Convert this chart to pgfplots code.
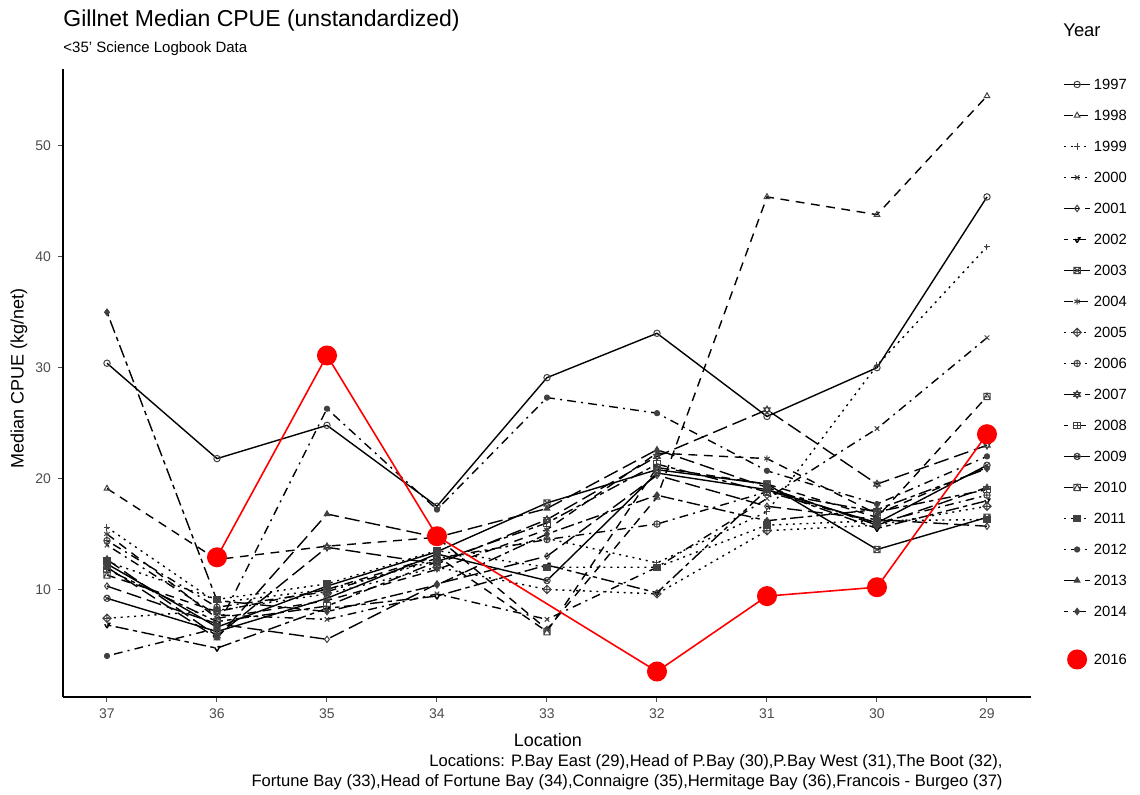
\documentclass[border=0pt]{standalone}
\usepackage{pgfplots}
\usepackage{pgfplotstable}
\pgfplotsset{compat=1.18}
\usepackage{fontspec}
\setmainfont{Liberation Sans}

\pgfdeclareplotmark{squarex}{%
  \pgfpathrectangle{\pgfqpoint{-\pgfplotmarksize}{-\pgfplotmarksize}}{\pgfqpoint{2\pgfplotmarksize}{2\pgfplotmarksize}}%
  \pgfpathmoveto{\pgfqpoint{-\pgfplotmarksize}{-\pgfplotmarksize}}\pgfpathlineto{\pgfqpoint{\pgfplotmarksize}{\pgfplotmarksize}}%
  \pgfpathmoveto{\pgfqpoint{-\pgfplotmarksize}{\pgfplotmarksize}}\pgfpathlineto{\pgfqpoint{\pgfplotmarksize}{-\pgfplotmarksize}}%
  \pgfusepathqstroke}
\pgfdeclareplotmark{squareplus}{%
  \pgfpathrectangle{\pgfqpoint{-\pgfplotmarksize}{-\pgfplotmarksize}}{\pgfqpoint{2\pgfplotmarksize}{2\pgfplotmarksize}}%
  \pgfpathmoveto{\pgfqpoint{0pt}{-\pgfplotmarksize}}\pgfpathlineto{\pgfqpoint{0pt}{\pgfplotmarksize}}%
  \pgfpathmoveto{\pgfqpoint{-\pgfplotmarksize}{0pt}}\pgfpathlineto{\pgfqpoint{\pgfplotmarksize}{0pt}}%
  \pgfusepathqstroke}
\pgfdeclareplotmark{squaretri}{%
  \pgfpathrectangle{\pgfqpoint{-\pgfplotmarksize}{-\pgfplotmarksize}}{\pgfqpoint{2\pgfplotmarksize}{2\pgfplotmarksize}}%
  \pgfpathmoveto{\pgfqpoint{-\pgfplotmarksize}{-\pgfplotmarksize}}\pgfpathlineto{\pgfqpoint{0pt}{\pgfplotmarksize}}%
  \pgfpathlineto{\pgfqpoint{\pgfplotmarksize}{-\pgfplotmarksize}}%
  \pgfusepathqstroke}
\pgfdeclareplotmark{diamondplus}{%
  \pgfpathmoveto{\pgfqpoint{0pt}{1.3\pgfplotmarksize}}\pgfpathlineto{\pgfqpoint{1.3\pgfplotmarksize}{0pt}}%
  \pgfpathlineto{\pgfqpoint{0pt}{-1.3\pgfplotmarksize}}\pgfpathlineto{\pgfqpoint{-1.3\pgfplotmarksize}{0pt}}\pgfpathclose
  \pgfpathmoveto{\pgfqpoint{0pt}{-1.3\pgfplotmarksize}}\pgfpathlineto{\pgfqpoint{0pt}{1.3\pgfplotmarksize}}%
  \pgfpathmoveto{\pgfqpoint{-1.3\pgfplotmarksize}{0pt}}\pgfpathlineto{\pgfqpoint{1.3\pgfplotmarksize}{0pt}}%
  \pgfusepathqstroke}
\pgfdeclareplotmark{davidstar}{%
  \pgfpathmoveto{\pgfqpoint{0pt}{1.2\pgfplotmarksize}}\pgfpathlineto{\pgfqpoint{1.04\pgfplotmarksize}{-0.6\pgfplotmarksize}}%
  \pgfpathlineto{\pgfqpoint{-1.04\pgfplotmarksize}{-0.6\pgfplotmarksize}}\pgfpathclose
  \pgfpathmoveto{\pgfqpoint{0pt}{-1.2\pgfplotmarksize}}\pgfpathlineto{\pgfqpoint{1.04\pgfplotmarksize}{0.6\pgfplotmarksize}}%
  \pgfpathlineto{\pgfqpoint{-1.04\pgfplotmarksize}{0.6\pgfplotmarksize}}\pgfpathclose
  \pgfusepathqstroke}

\definecolor{tickgray}{HTML}{4D4D4D}

\tikzset{
  lsolid/.style={solid},
  ldashed/.style={dash pattern=on 4.4pt off 3.3pt},
  ldotted/.style={dash pattern=on 1pt off 2.4pt},
  ldotdash/.style={dash pattern=on 1pt off 2.6pt on 4.4pt off 2.6pt},
  llongdash/.style={dash pattern=on 7.5pt off 3pt},
  ltwodash/.style={dash pattern=on 2.2pt off 2.2pt on 6.6pt off 2.2pt},
}
\pgfplotsset{
  yearlegend/.style={legend image code/.code={\draw[mark repeat=2,mark phase=2,##1] plot coordinates {(0cm,0cm)(0.23cm,0cm)(0.46cm,0cm)};}},
  dotlegend/.style={legend image code/.code={\draw[##1] plot[mark=*] coordinates {(0.23cm,0cm)};}},
}

% columns: idx 0..8 = locations 37,36,35,34,33,32,31,30,29
\pgfplotstableread{
idx y1997 y1998 y1999 y2000 y2001 y2002 y2003 y2004 y2005 y2006 y2007 y2008 y2009 y2010 y2011 y2012 y2013 y2014
0 30.4 19.1 15.6 14.0 10.3  6.8 12.3 15.0  7.4 14.4 12.7 11.8  9.2 11.3 12.5  4.0 12.0 35.0
1 21.8 12.7  8.8  7.7  6.9  4.7  6.6  7.4  8.1  8.4  5.8  7.1  6.2  8.0  9.1  6.5  5.6  9.0
2 24.8 13.9 10.0  7.3  5.5  8.3 10.3  9.0  9.6  9.8 13.8  8.5  9.2 10.0 10.5 26.3 16.8  8.0
3 17.5 14.7 12.6  9.6 10.5  9.4 13.4 11.8 12.0 12.8 12.3 12.5 13.2 13.0 13.5 17.2 14.7 10.4
4 29.1  6.4 14.6  7.3 13.0 12.2 17.8 15.4 10.0 14.5 16.3 16.0 10.8  6.2 12.0 27.3 17.3 15.0
5 33.1 18.3 12.4 12.0 20.3  9.7 20.8 22.3  9.6 15.9 22.0 21.3 20.5 21.0 12.0 25.9 22.6 18.5
6 25.6 45.4 17.0 18.2 17.5 19.0 19.5 21.8 15.3 18.8 26.2 18.8 19.0 19.5 15.8 20.7 19.2 16.2
7 30.0 43.8 30.2 24.5 16.3 15.5 13.6 16.8 15.8 16.0 19.5 17.0 16.0 16.5 16.2 17.7 15.8 17.2
8 45.4 54.5 40.9 32.7 15.7 18.0 16.5 21.0 17.5 18.5 23.0 19.0 21.2 27.4 16.3 22.0 19.2 20.9
}\cpue

\pgfplotstableread{
idx y2016
1 12.9
2 31.1
3 14.8
5 2.6
6 9.4
7 10.2
8 24.0
}\cpuenew

\begin{document}
\begin{tikzpicture}
\begin{scope}[x=0.5pt,y=-0.5pt]
\path[use as bounding box] (0,0) rectangle (1140,795);
\end{scope}
\begin{axis}[
  at={(31.5pt,-348.5pt)}, anchor=south west,
  scale only axis, width=484pt, height=313.8pt,
  xmin=-0.4, xmax=8.4, ymin=0.3, ymax=56.9,
  axis lines*=left,
  axis line style={line width=0.6pt, black},
  xtick={0,...,8}, xticklabels={37,36,35,34,33,32,31,30,29},
  ytick={10,20,30,40,50},
  tick align=outside, major tick length=2.5pt,
  tick style={line width=0.5pt, color=tickgray},
  ticklabel style={font=\fontsize{7}{8}\selectfont, color=tickgray},
  /pgf/number format/assume math mode=true,
  xlabel={Location}, ylabel={Median CPUE (kg/net)},
  label style={font=\fontsize{9}{10}\selectfont},
  xlabel style={at={(axis description cs:0.501,-0.0685)}, anchor=center},
  ylabel style={at={(axis description cs:-0.0455,0.508)}, anchor=center},
  clip=false,
  every axis plot/.append style={line width=0.7pt, black, mark size=1.6pt, mark options={solid, line width=0.5pt, draw=black!75, fill=black!75}},
  yearlegend,
  legend style={draw=none, fill=none, at={(axis description cs:1.033,0.99)}, anchor=north west,
    font=\fontsize{7.4}{8.5}\selectfont, row sep=7.1pt, inner sep=0pt,
    nodes={inner sep=1.5pt, text height=5.4pt, text depth=0pt}},
  legend cell align=left,
]
\addplot[lsolid, mark=o] table[x=idx,y=y1997]{\cpue};\addlegendentry{1997}
\addplot[ldashed, mark=triangle] table[x=idx,y=y1998]{\cpue};\addlegendentry{1998}
\addplot[ldotted, mark=+] table[x=idx,y=y1999]{\cpue};\addlegendentry{1999}
\addplot[ldotdash, mark=x] table[x=idx,y=y2000]{\cpue};\addlegendentry{2000}
\addplot[llongdash, mark=diamond] table[x=idx,y=y2001]{\cpue};\addlegendentry{2001}
\addplot[ltwodash, mark=triangle, mark options={rotate=180}] table[x=idx,y=y2002]{\cpue};\addlegendentry{2002}
\addplot[lsolid, mark=squarex] table[x=idx,y=y2003]{\cpue};\addlegendentry{2003}
\addplot[ldashed, mark=asterisk] table[x=idx,y=y2004]{\cpue};\addlegendentry{2004}
\addplot[ldotted, mark=diamondplus] table[x=idx,y=y2005]{\cpue};\addlegendentry{2005}
\addplot[ldotdash, mark=oplus] table[x=idx,y=y2006]{\cpue};\addlegendentry{2006}
\addplot[llongdash, mark=davidstar] table[x=idx,y=y2007]{\cpue};\addlegendentry{2007}
\addplot[ltwodash, mark=squareplus] table[x=idx,y=y2008]{\cpue};\addlegendentry{2008}
\addplot[lsolid, mark=otimes] table[x=idx,y=y2009]{\cpue};\addlegendentry{2009}
\addplot[ldashed, mark=squaretri] table[x=idx,y=y2010]{\cpue};\addlegendentry{2010}
\addplot[ldotted, mark=square*] table[x=idx,y=y2011]{\cpue};\addlegendentry{2011}
\addplot[ldotdash, mark=*, mark size=1.3pt] table[x=idx,y=y2012]{\cpue};\addlegendentry{2012}
\addplot[llongdash, mark=triangle*] table[x=idx,y=y2013]{\cpue};\addlegendentry{2013}
\addplot[ltwodash, mark=diamond*] table[x=idx,y=y2014]{\cpue};\addlegendentry{2014}
\addlegendimage{empty legend}\addlegendentry[text height=0pt, inner sep=0pt]{}
\addplot[red, line width=0.8pt, mark=*, mark size=4.6pt, mark options={solid, draw=red, fill=red}, dotlegend]
  table[x=idx,y=y2016]{\cpuenew};\addlegendentry{2016}
\end{axis}
\begin{scope}[x=0.5pt,y=-0.5pt]
\node[anchor=base west, inner sep=0pt, font=\fontsize{11.5}{13}\selectfont] at (63,27) {Gillnet Median CPUE (unstandardized)};
\node[anchor=base west, inner sep=0pt, font=\fontsize{7.5}{9}\selectfont] at (63,53) {<35' Science Logbook Data};
\node[anchor=base west, inner sep=0pt, font=\fontsize{9.2}{10}\selectfont] at (1063,37) {Year};
\node[anchor=base east, inner sep=0pt, font=\fontsize{8.3}{9}\selectfont] at (1003,766) {Locations: P.Bay East (29),Head of P.Bay (30),P.Bay West (31),The Boot (32),};
\node[anchor=base east, inner sep=0pt, font=\fontsize{8.3}{9}\selectfont] at (1003,786) {Fortune Bay (33),Head of Fortune Bay (34),Connaigre (35),Hermitage Bay (36),Francois - Burgeo (37)};
\end{scope}
\end{tikzpicture}
\end{document}
